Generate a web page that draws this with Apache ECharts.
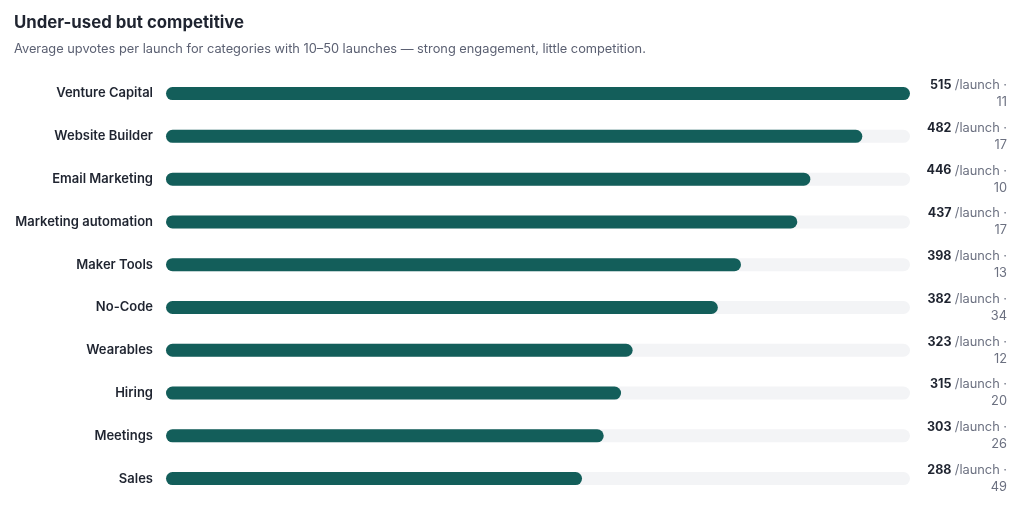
<!DOCTYPE html>
<html><head><meta charset="utf-8">
<script src="https://cdn.jsdelivr.net/npm/echarts@6/dist/echarts.min.js"></script>
<style>html,body{margin:0;padding:0;background:#fff}#c{width:1025px;height:506px}</style>
</head><body><div id="c"></div>
<script>
const categories = ['Venture Capital','Website Builder','Email Marketing','Marketing automation','Maker Tools','No-Code','Wearables','Hiring','Meetings','Sales'];
const avgUpvotes = [515,482,446,437,398,382,323,315,303,288];
const launches = [11,17,10,17,13,34,12,20,26,49];
const titleText = 'Under-used but competitive';
const subtitleText = 'Average upvotes per launch for categories with 10–50 launches — strong engagement, little competition.';

const chart = echarts.init(document.getElementById('c'));
const F = 'Inter, "Noto Sans", sans-serif';
chart.setOption({
  animation:false,
  title:{text:titleText,subtext:subtitleText,left:9,top:9,itemGap:12,
    textStyle:{fontFamily:F,fontSize:16.8,fontWeight:'bold',color:'#1f2430'},
    subtextStyle:{fontFamily:F,fontSize:12.8,color:'#5b6072'}},
  grid:{left:166,right:115,top:72.2,bottom:6},
  xAxis:{type:'value',min:0,max:515,show:false},
  yAxis:[{type:'category',data:categories,inverse:true,axisLine:{show:false},axisTick:{show:false},
    axisLabel:{fontFamily:F,fontSize:13,fontWeight:600,color:'#1f2430',margin:13}},
    {type:'category',data:categories,inverse:true,position:'right',axisLine:{show:false},axisTick:{show:false},
    axisLabel:{align:'right',margin:97,lineHeight:17,
      formatter:(v,i)=>'{v|'+avgUpvotes[i]+'} {u|/launch ·}\n{c|'+launches[i]+'}',
      rich:{v:{fontFamily:F,fontSize:12.5,fontWeight:'bold',color:'#1f2430',align:'right'},
            u:{fontFamily:F,fontSize:12.8,color:'#6b7080',align:'right'},
            c:{fontFamily:F,fontSize:12.8,color:'#6b7080',align:'right'}}}}],
  series:[{type:'bar',data:avgUpvotes,barWidth:13,showBackground:true,
    backgroundStyle:{color:'#f3f4f6',borderRadius:6.5},
    itemStyle:{color:'#135e5a',borderRadius:6.5}}]
});
</script></body></html>
